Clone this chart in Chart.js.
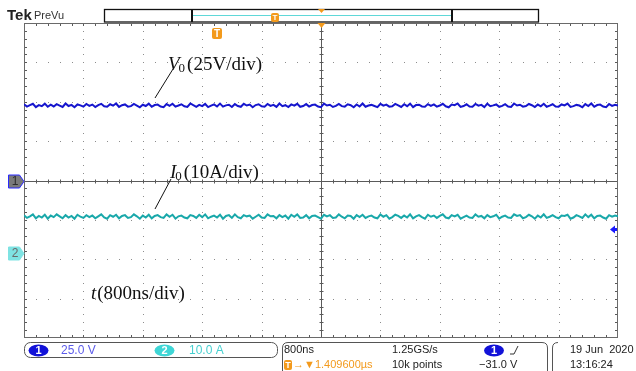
<!DOCTYPE html>
<html>
<head>
<meta charset="utf-8">
<script src="https://cdn.jsdelivr.net/npm/chart.js@4.4.0/dist/chart.umd.min.js"></script>
<style>
  html, body { margin: 0; padding: 0; background: #fff; }
  canvas { display: block; }
</style>
</head>
<body>
<canvas id="scope" width="636" height="371"></canvas>
<script>
// scope settings
const voltsPerDiv = 25;     // ch1
const ampsPerDiv = 10;      // ch2
const nsPerDiv = 800;
const ch2OffsetDiv = -1.84; // ch2 ground marker position
const triggerLevelV = -31;
const sampleStepNs = 40;

// ch1: output voltage V0 (V)
const v0 = [
  48.4,46.9,47.8,48.7,46.6,47.9,47.2,48.8,46.8,48.1,
  47.0,48.5,47.6,46.7,48.9,47.3,48.0,46.5,48.3,47.7,
  46.9,48.6,47.4,48.2,46.6,47.9,48.7,47.1,46.8,48.4,
  47.5,48.9,46.7,47.8,48.3,46.9,47.2,48.6,47.6,46.5,
  48.1,47.3,48.8,46.8,47.9,48.2,47.0,46.6,48.5,47.4,
  48.7,46.9,47.6,48.4,47.1,46.7,48.9,47.8,46.8,48.0,
  47.2,48.6,46.6,47.5,48.3,47.0,48.8,46.9,47.7,48.1,
  46.7,48.5,47.3,46.8,48.7,47.6,48.2,46.5,47.9,48.4,
  47.1,46.9,48.6,47.4,48.0,46.7,48.9,47.2,47.8,46.6,
  48.3,47.5,48.7,46.8,47.3,48.5,46.9,47.9,48.2,47.0,
  46.6,48.8,47.6,48.1,46.7,47.4,48.6,47.2,46.9,48.4,
  47.8,46.5,48.3,47.0,48.9,46.8,47.6,48.0,47.3,46.6,
  48.7,47.5,48.2,46.9,47.1,48.6,47.7,46.7,48.4,47.2,
  48.8,46.6,47.9,48.1,47.0,46.8,48.5,47.4,48.3,46.9,
  47.6,48.7,47.1,46.5,48.2,47.8,48.9,46.7,47.3,48.4,
  47.0,46.9,48.6,47.5,48.0,46.6,48.8,47.2,47.7,48.3,
  46.8,47.4,48.5,47.0,46.7,48.9,47.6,48.1,46.9,47.3,
  48.6,47.8,46.6,48.2,47.1,48.7,46.8,47.5,48.4,47.0,
  46.9,48.3,47.7,48.8,46.7,47.2,48.0,47.6,46.5,48.5,
  47.3,48.9,46.8,47.9,48.2,47.0,46.6,48.6,47.4,48.1,
  47.6
];

// ch2: output current I0 (A)
const i0 = [
  9.6,8.9,9.3,9.8,8.8,9.4,9.0,9.7,8.7,9.5,
  9.1,9.8,9.3,8.8,9.6,9.0,9.4,8.7,9.7,9.2,
  8.9,9.6,9.1,9.5,8.8,9.3,9.8,9.0,8.7,9.6,
  9.2,9.7,8.8,9.4,9.6,8.9,9.1,9.8,9.3,8.7,
  9.5,9.0,9.7,8.8,9.4,9.6,9.1,8.9,9.8,9.2,
  9.7,8.7,9.3,9.5,9.0,8.8,9.6,9.4,8.9,9.7,
  9.1,9.8,8.8,9.2,9.5,9.0,9.7,8.7,9.4,9.6,
  8.9,9.8,9.1,8.8,9.6,9.3,9.5,8.7,9.2,9.7,
  9.0,8.9,9.8,9.3,9.4,8.8,9.6,9.1,9.5,8.7,
  9.7,9.2,9.8,8.9,9.0,9.6,8.8,9.4,9.5,9.1,
  8.7,9.7,9.3,9.6,8.9,9.0,9.8,9.2,8.8,9.5,
  9.4,8.7,9.6,9.1,9.7,8.9,9.3,9.5,9.0,8.8,
  9.8,9.2,9.6,8.7,9.1,9.7,9.4,8.9,9.5,9.0,
  9.8,8.8,9.3,9.6,9.1,8.7,9.7,9.2,9.5,8.9,
  9.4,9.8,9.0,8.8,9.6,9.3,9.7,8.7,9.1,9.5,
  9.0,8.9,9.8,9.2,9.4,8.8,9.6,9.1,9.3,9.7,
  8.7,9.2,9.5,9.0,8.9,9.8,9.4,9.6,8.8,9.1,
  9.7,9.3,8.7,9.5,9.0,9.8,8.9,9.2,9.6,9.1,
  8.8,9.5,9.4,9.7,8.7,9.0,9.6,9.3,8.9,9.8,
  9.1,9.7,8.8,9.4,9.5,9.0,8.7,9.6,9.2,9.5,
  9.3
];

const ch1Points = v0.map((v, i) => ({ x: i * sampleStepNs, y: v / voltsPerDiv }));
const ch2Points = i0.map((a, i) => ({ x: i * sampleStepNs, y: a / ampsPerDiv + ch2OffsetDiv }));

function pill(ctx, cx, cy, w, h, fill, label) {
  ctx.beginPath();
  ctx.ellipse(cx, cy, w / 2, h / 2, 0, 0, Math.PI * 2);
  ctx.fillStyle = fill;
  ctx.fill();
  ctx.fillStyle = '#fff';
  ctx.font = 'bold 11px "Liberation Sans"';
  ctx.textAlign = 'center';
  ctx.textBaseline = 'middle';
  ctx.fillText(label, cx, cy + 0.5);
  ctx.textAlign = 'left';
}

function tBadge(ctx, x, y, w, h) {
  ctx.fillStyle = '#f39a1c';
  ctx.beginPath();
  ctx.roundRect(x, y, w, h, 2);
  ctx.fill();
  ctx.fillStyle = '#fff';
  ctx.font = 'bold ' + (h - 1) + 'px "Liberation Sans"';
  ctx.textAlign = 'center';
  ctx.textBaseline = 'middle';
  ctx.fillText('T', x + w / 2, y + h / 2 + 0.5);
  ctx.textAlign = 'left';
}

function chMarker(ctx, y, fill, stroke, label, textColor) {
  ctx.beginPath();
  ctx.moveTo(8.5, y - 6.5);
  ctx.lineTo(19.5, y - 6.5);
  ctx.lineTo(24, y);
  ctx.lineTo(19.5, y + 6.5);
  ctx.lineTo(8.5, y + 6.5);
  ctx.closePath();
  ctx.fillStyle = fill;
  ctx.fill();
  ctx.strokeStyle = stroke;
  ctx.lineWidth = 1;
  ctx.stroke();
  ctx.fillStyle = textColor;
  ctx.font = '12px "Liberation Sans"';
  ctx.textAlign = 'center';
  ctx.textBaseline = 'middle';
  ctx.fillText(label, 15, y + 0.5);
  ctx.textAlign = 'left';
}

const graticule = {
  id: 'graticule',
  beforeDatasetsDraw(chart) {
    const { ctx, chartArea: a, scales: { x, y } } = chart;
    ctx.save();
    // dotted division lines
    ctx.fillStyle = '#8c8c8c';
    for (let d = 1; d < 10; d++) {
      if (d === 5) continue;
      const px = Math.round(x.getPixelForValue(d * nsPerDiv));
      for (let m = 1; m < 40; m++) {
        ctx.fillRect(px, Math.round(y.getPixelForValue(-4 + m * 0.2)), 1, 1);
      }
    }
    for (let d = -3; d <= 3; d++) {
      if (d === 0) continue;
      const py = Math.round(y.getPixelForValue(d));
      for (let m = 1; m < 50; m++) {
        ctx.fillRect(Math.round(x.getPixelForValue(m * nsPerDiv / 5)), py, 1, 1);
      }
    }
    // centre cross with minor ticks
    const cx = Math.round(x.getPixelForValue(5 * nsPerDiv)) + 0.5;
    const cy = Math.round(y.getPixelForValue(0)) + 0.5;
    ctx.strokeStyle = '#5a5a5a';
    ctx.lineWidth = 1;
    ctx.beginPath();
    ctx.moveTo(cx, a.top); ctx.lineTo(cx, a.bottom);
    ctx.moveTo(a.left, cy); ctx.lineTo(a.right, cy);
    for (let m = 1; m < 50; m++) {
      const px = Math.round(x.getPixelForValue(m * nsPerDiv / 5)) + 0.5;
      ctx.moveTo(px, cy - 2); ctx.lineTo(px, cy + 2);
      ctx.moveTo(px, a.top); ctx.lineTo(px, a.top + 3);
      ctx.moveTo(px, a.bottom); ctx.lineTo(px, a.bottom - 3);
    }
    for (let m = 1; m < 40; m++) {
      const py = Math.round(y.getPixelForValue(-4 + m * 0.2)) + 0.5;
      ctx.moveTo(cx - 2, py); ctx.lineTo(cx + 2, py);
      ctx.moveTo(a.left, py); ctx.lineTo(a.left + 3, py);
      ctx.moveTo(a.right, py); ctx.lineTo(a.right - 3, py);
    }
    ctx.stroke();
    // frame
    ctx.strokeStyle = '#6a6a6a';
    ctx.strokeRect(a.left + 0.5, a.top + 0.5, a.right - a.left - 1, a.bottom - a.top - 1);
    ctx.restore();
  },
  afterDatasetsDraw(chart) {
    const { ctx, chartArea: a, scales: { x, y } } = chart;
    ctx.save();
    // header
    ctx.fillStyle = '#222';
    ctx.textBaseline = 'alphabetic';
    ctx.font = 'bold 15px "Liberation Sans"';
    ctx.fillText('Tek', 7, 20);
    ctx.font = '11px "Liberation Sans"';
    ctx.fillStyle = '#333';
    ctx.fillText('PreVu', 34, 19);

    // record view bar
    ctx.strokeStyle = '#111';
    ctx.lineWidth = 1.3;
    ctx.strokeRect(104.5, 9.5, 434, 12.5);
    ctx.lineWidth = 2;
    ctx.beginPath();
    ctx.moveTo(192, 9.5); ctx.lineTo(192, 22);
    ctx.moveTo(452, 9.5); ctx.lineTo(452, 22);
    ctx.stroke();
    ctx.strokeStyle = '#5fd8d8';
    ctx.lineWidth = 1;
    ctx.beginPath();
    ctx.moveTo(193, 15.5); ctx.lineTo(451, 15.5);
    ctx.stroke();
    tBadge(ctx, 271, 13, 8, 9);

    // expansion point triangles
    const ex = x.getPixelForValue(5 * nsPerDiv) + 0.5;
    ctx.fillStyle = '#f39a1c';
    ctx.beginPath();
    ctx.moveTo(ex - 3.5, 9); ctx.lineTo(ex + 3.5, 9); ctx.lineTo(ex, 13); ctx.closePath();
    ctx.fill();
    ctx.beginPath();
    ctx.moveTo(ex - 4, a.top); ctx.lineTo(ex + 4, a.top); ctx.lineTo(ex, a.top + 5); ctx.closePath();
    ctx.fill();
    // trigger position badge
    tBadge(ctx, 212, 28, 10, 11);

    // channel ground markers
    chMarker(ctx, Math.round(y.getPixelForValue(0)) + 0.5, '#7a7a7a', '#2a2aff', '1', '#2e2e2e');
    chMarker(ctx, Math.round(y.getPixelForValue(ch2OffsetDiv)) + 0.5, '#7fe3e3', '#7fe3e3', '2', '#6a6a6a');

    // trigger level arrow
    const ty = Math.round(y.getPixelForValue(triggerLevelV / voltsPerDiv)) + 0.5;
    ctx.fillStyle = '#1a1aff';
    ctx.beginPath();
    ctx.moveTo(610, ty); ctx.lineTo(615, ty - 4); ctx.lineTo(615, ty + 4); ctx.closePath();
    ctx.fill();
    ctx.fillRect(614, ty - 1.5, 3, 3);

    // annotations
    ctx.fillStyle = '#111';
    ctx.strokeStyle = '#111';
    ctx.lineWidth = 1;
    const serif = '"Liberation Serif", "Times New Roman", serif';
    function label(sym, sub, rest, lx, ly) {
      ctx.font = 'italic 19px ' + serif;
      ctx.fillText(sym, lx, ly);
      let w = ctx.measureText(sym).width;
      if (sub) {
        ctx.font = '13px ' + serif;
        ctx.fillText(sub, lx + w - 1, ly + 4);
        w += ctx.measureText(sub).width;
      }
      ctx.font = '19px ' + serif;
      ctx.fillText(rest, lx + w + 1, ly);
    }
    label('V', '0', '(25V/div)', 168, 65);
    ctx.beginPath(); ctx.moveTo(173, 69); ctx.lineTo(155, 98); ctx.stroke();
    label('I', '0', '(10A/div)', 170, 173);
    ctx.beginPath(); ctx.moveTo(171, 179); ctx.lineTo(155, 209); ctx.stroke();
    label('t', '', '(800ns/div)', 91, 294);

    // footer boxes
    ctx.strokeStyle = '#555';
    ctx.lineWidth = 1;
    ctx.beginPath();
    ctx.roundRect(24.5, 342.5, 253, 15, 6);
    ctx.stroke();
    ctx.beginPath();
    ctx.moveTo(282.5, 372); ctx.lineTo(282.5, 348);
    ctx.quadraticCurveTo(282.5, 342.5, 288, 342.5);
    ctx.lineTo(542, 342.5);
    ctx.quadraticCurveTo(547.5, 342.5, 547.5, 348);
    ctx.lineTo(547.5, 372);
    ctx.moveTo(558, 342.5);
    ctx.quadraticCurveTo(552.5, 342.5, 552.5, 348);
    ctx.lineTo(552.5, 372);
    ctx.stroke();

    ctx.textBaseline = 'middle';
    pill(ctx, 38.5, 350.5, 20, 12, '#1212d8', '1');
    ctx.font = '12px "Liberation Sans"';
    ctx.fillStyle = '#5b5bea';
    ctx.fillText('25.0 V', 61, 351);
    pill(ctx, 164.5, 350.5, 20, 12, '#3fd6d6', '2');
    ctx.font = '12px "Liberation Sans"';
    ctx.fillStyle = '#45d0d0';
    ctx.fillText('10.0 A', 189, 351);

    ctx.font = '11px "Liberation Sans"';
    ctx.fillStyle = '#222';
    ctx.fillText('800ns', 284, 350);
    ctx.fillText('1.25GS/s', 392, 350);
    ctx.fillText('10k points', 392, 365);
    ctx.fillText('\u221231.0 V', 479, 365);
    ctx.fillText('19 Jun  2020', 570, 350);
    ctx.fillText('13:16:24', 570, 365);
    pill(ctx, 494, 350.5, 20, 12, '#1212d8', '1');
    ctx.strokeStyle = '#333';
    ctx.beginPath(); ctx.moveTo(510, 354); ctx.lineTo(514, 354); ctx.lineTo(518, 346); ctx.stroke();
    tBadge(ctx, 284, 360, 8, 10);
    ctx.font = '11px "Liberation Sans"';
    ctx.fillStyle = '#f39a1c';
    ctx.textBaseline = 'middle';
    ctx.fillText('\u2192\u25BC1.409600\u00B5s', 293, 365);
    ctx.restore();
  }
};

new Chart(document.getElementById('scope'), {
  type: 'line',
  data: {
    datasets: [
      { label: 'I0', data: ch2Points, borderColor: 'rgb(25,168,170)', borderWidth: 2, pointRadius: 0, tension: 0 },
      { label: 'V0', data: ch1Points, borderColor: 'rgb(22,22,205)', borderWidth: 2, pointRadius: 0, tension: 0 }
    ]
  },
  options: {
    responsive: false,
    animation: false,
    devicePixelRatio: 1,
    layout: { padding: { left: 24, top: 23, right: 18, bottom: 33 } },
    plugins: { legend: { display: false }, tooltip: { enabled: false } },
    scales: {
      x: { type: 'linear', min: 0, max: 10 * nsPerDiv, display: false },
      y: { type: 'linear', min: -4, max: 4, display: false }
    }
  },
  plugins: [graticule]
});
</script>
</body>
</html>
